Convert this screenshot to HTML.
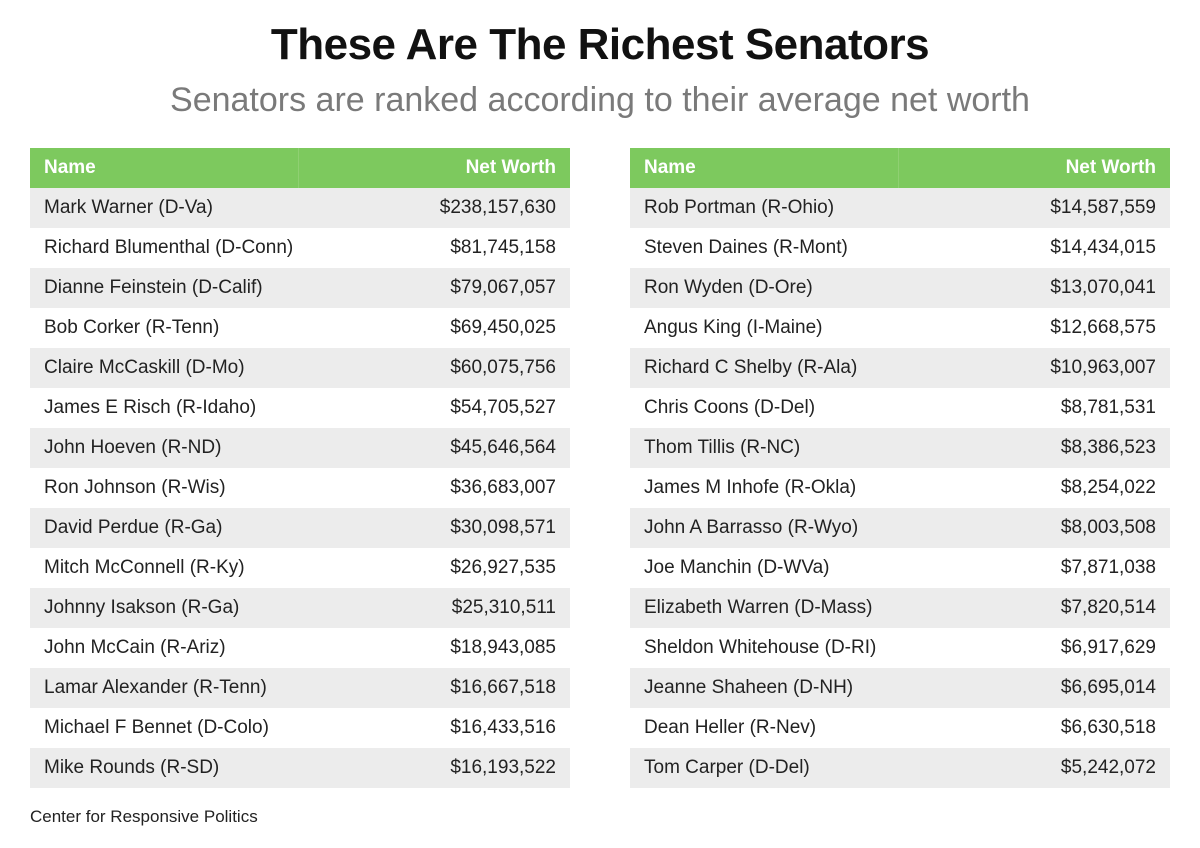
<!DOCTYPE html>
<html><head><meta charset="utf-8"><style>
body{margin:0;width:1200px;height:848px;background:#fff;font-family:"Liberation Sans",sans-serif;position:relative;overflow:hidden}
h1{position:absolute;top:20px;left:0;width:1200px;text-align:center;margin:0;font-size:44px;font-weight:bold;color:#111;letter-spacing:-0.5px}
h2{position:absolute;top:81px;left:0;width:1200px;text-align:center;margin:0;font-size:34px;font-weight:normal;color:#7a7a7a}
table{position:absolute;top:148px;width:540px;border-collapse:collapse;font-size:19px;color:#222;table-layout:fixed}
td,th{height:40px;padding:0 14px;box-sizing:border-box;white-space:nowrap;overflow:visible}
th{background:#7dc95e;color:#fff;font-weight:bold;text-align:left;font-size:19px}
th:first-child{border-right:1px solid #8fd072;width:268px}
th:last-child{text-align:right}
td:last-child{text-align:right}
tr:nth-child(even) td{background:#ececec}
.foot{position:absolute;top:807px;left:30px;font-size:17px;color:#222}
</style></head><body>
<h1>These Are The Richest Senators</h1>
<h2>Senators are ranked according to their average net worth</h2>
<table style="left:30px">
<tr><th>Name</th><th>Net Worth</th></tr>
<tr><td>Mark Warner (D-Va)</td><td>$238,157,630</td></tr>
<tr><td>Richard Blumenthal (D-Conn)</td><td>$81,745,158</td></tr>
<tr><td>Dianne Feinstein (D-Calif)</td><td>$79,067,057</td></tr>
<tr><td>Bob Corker (R-Tenn)</td><td>$69,450,025</td></tr>
<tr><td>Claire McCaskill (D-Mo)</td><td>$60,075,756</td></tr>
<tr><td>James E Risch (R-Idaho)</td><td>$54,705,527</td></tr>
<tr><td>John Hoeven (R-ND)</td><td>$45,646,564</td></tr>
<tr><td>Ron Johnson (R-Wis)</td><td>$36,683,007</td></tr>
<tr><td>David Perdue (R-Ga)</td><td>$30,098,571</td></tr>
<tr><td>Mitch McConnell (R-Ky)</td><td>$26,927,535</td></tr>
<tr><td>Johnny Isakson (R-Ga)</td><td>$25,310,511</td></tr>
<tr><td>John McCain (R-Ariz)</td><td>$18,943,085</td></tr>
<tr><td>Lamar Alexander (R-Tenn)</td><td>$16,667,518</td></tr>
<tr><td>Michael F Bennet (D-Colo)</td><td>$16,433,516</td></tr>
<tr><td>Mike Rounds (R-SD)</td><td>$16,193,522</td></tr>
</table>
<table style="left:630px">
<tr><th>Name</th><th>Net Worth</th></tr>
<tr><td>Rob Portman (R-Ohio)</td><td>$14,587,559</td></tr>
<tr><td>Steven Daines (R-Mont)</td><td>$14,434,015</td></tr>
<tr><td>Ron Wyden (D-Ore)</td><td>$13,070,041</td></tr>
<tr><td>Angus King (I-Maine)</td><td>$12,668,575</td></tr>
<tr><td>Richard C Shelby (R-Ala)</td><td>$10,963,007</td></tr>
<tr><td>Chris Coons (D-Del)</td><td>$8,781,531</td></tr>
<tr><td>Thom Tillis (R-NC)</td><td>$8,386,523</td></tr>
<tr><td>James M Inhofe (R-Okla)</td><td>$8,254,022</td></tr>
<tr><td>John A Barrasso (R-Wyo)</td><td>$8,003,508</td></tr>
<tr><td>Joe Manchin (D-WVa)</td><td>$7,871,038</td></tr>
<tr><td>Elizabeth Warren (D-Mass)</td><td>$7,820,514</td></tr>
<tr><td>Sheldon Whitehouse (D-RI)</td><td>$6,917,629</td></tr>
<tr><td>Jeanne Shaheen (D-NH)</td><td>$6,695,014</td></tr>
<tr><td>Dean Heller (R-Nev)</td><td>$6,630,518</td></tr>
<tr><td>Tom Carper (D-Del)</td><td>$5,242,072</td></tr>
</table>
<div class="foot">Center for Responsive Politics</div>
</body></html>
